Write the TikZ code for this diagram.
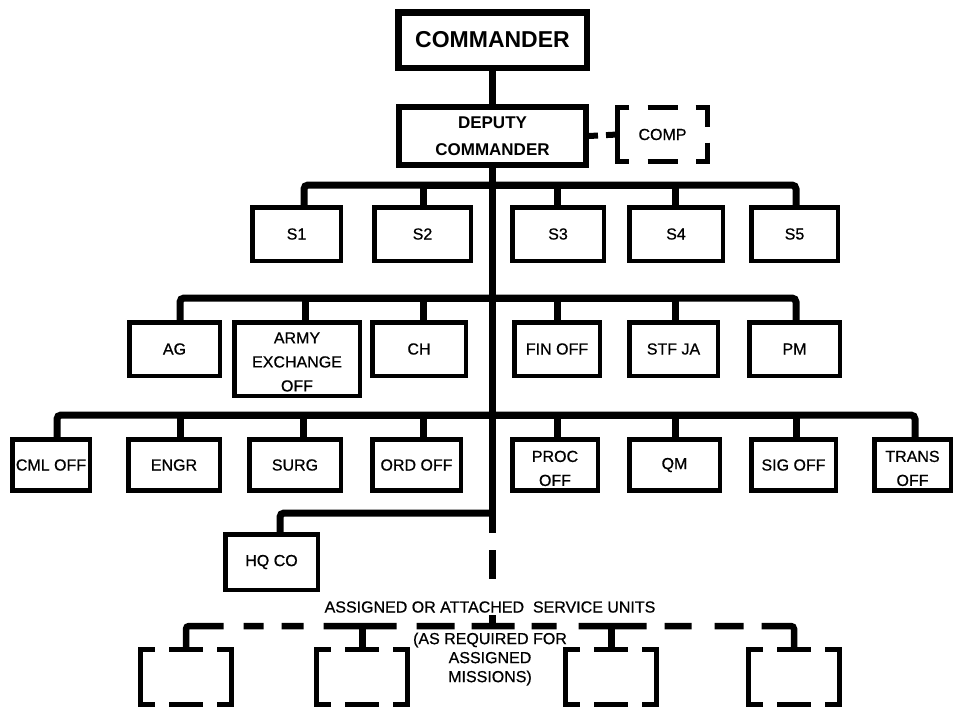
\documentclass[tikz,border=0pt]{standalone}
\usepackage{fontspec}
\setmainfont{Liberation Sans}
\newfontfamily\medfont{Liberation Sans}[FakeBold=0.7]
\begin{document}
\begin{tikzpicture}[x=1pt,y=-1pt,
  box/.style={draw, line width=4.5pt, inner sep=0pt, align=center, font=\medfont\fontsize{16}{24}\selectfont},
  bus/.style={line width=7pt},
  dbox/.style={line width=5pt},
  ghost/.style={inner sep=0pt, minimum width=90pt, minimum height=55pt},
  note/.style={inner sep=0pt, align=center, font=\medfont\fontsize{16}{19}\selectfont}]
\useasboundingbox (0,0) rectangle (960,710);

% top
\node[box, line width=6.5pt, minimum width=188.5pt, minimum height=55.5pt, font=\bfseries\fontsize{23}{27}\selectfont] (cmd) at (492.5,40) {COMMANDER};
\node[box, line width=6pt, minimum width=187pt, minimum height=58pt, font=\bfseries\fontsize{17}{27}\selectfont] (dep) at (492.5,136) {DEPUTY\\COMMANDER};
\node[ghost, minimum width=90pt, minimum height=54pt, font=\medfont\fontsize{16}{19}\selectfont] (comp) at (662.5,134.5) {COMP};

% row 1
\node[box, minimum width=88.5pt, minimum height=53.5pt] (s1) at (296.5,234) {S1};
\node[box, minimum width=96.5pt, minimum height=53.5pt] (s2) at (422.5,234) {S2};
\node[box, minimum width=91.5pt, minimum height=53.5pt] (s3) at (558,234) {S3};
\node[box, minimum width=93.5pt, minimum height=53.5pt] (s4) at (676,234) {S4};
\node[box, minimum width=86.5pt, minimum height=53.5pt] (s5) at (794.5,234) {S5};

% row 2
\node[box, minimum width=90.5pt, minimum height=53.5pt] (ag) at (174.5,349) {AG};
\node[box, minimum width=125.5pt, minimum height=73.5pt] (army) at (297,359) {\rule{0pt}{17pt}ARMY\\EXCHANGE\\OFF};
\node[box, minimum width=93.5pt, minimum height=53.5pt] (ch) at (419,349) {CH};
\node[box, minimum width=85.5pt, minimum height=53.5pt] (fin) at (557,349) {FIN OFF};
\node[box, minimum width=88.5pt, minimum height=53.5pt] (stf) at (673.5,349) {STF JA};
\node[box, minimum width=90.5pt, minimum height=53.5pt] (pm) at (794.5,349) {PM};

% row 3
\node[box, minimum width=77.5pt, minimum height=51pt] (cml) at (51,465) {CML OFF};
\node[box, minimum width=91.5pt, minimum height=51pt] (engr) at (174,465) {ENGR};
\node[box, minimum width=91.5pt, minimum height=51pt] (surg) at (295,465) {SURG};
\node[box, minimum width=88.5pt, minimum height=51pt] (ord) at (416.5,465) {ORD OFF};
\node[box, minimum width=85.5pt, minimum height=51pt] (proc) at (555,465) {\rule{0pt}{18pt}PROC\\OFF};
\node[box, minimum width=90.5pt, minimum height=51pt] (qm) at (674.5,465) {QM};
\node[box, minimum width=84.5pt, minimum height=51pt] (sig) at (793.5,465) {SIG OFF};
\node[box, minimum width=76.5pt, minimum height=51pt] (trans) at (912.5,465) {\rule{0pt}{18pt}TRANS\\OFF};

\node[box, minimum width=92.5pt, minimum height=55.5pt] (hq) at (271.5,562) {HQ CO};

% bottom
\node[ghost] (b1) at (186,677) {};
\node[ghost] (b2) at (362,677) {};
\node[ghost] (b3) at (611,677) {};
\node[ghost] (b4) at (794,677) {};

\node[note] (units) at (490,607) {ASSIGNED OR ATTACHED~ SERVICE UNITS};
\node[note] (req) at (490,659) {(AS REQUIRED FOR\\ASSIGNED\\MISSIONS)};

% coordinates on trunk
\coordinate (bus1) at (492.5,185);
\coordinate (bus2) at (492.5,298);
\coordinate (bus3) at (492.5,415);
\coordinate (bhq) at (492.5,513);
\coordinate (tEnd) at (492.5,533);
\coordinate (tDash) at (492.5,550);
\coordinate (bus4) at (492.5,626);

% trunk
\draw[bus] (cmd.south) -- (dep.north);
\draw[bus] (dep.south) -- (tEnd);
\draw[bus, dash pattern=on 29pt off 36pt on 40pt] (tDash) -- (bus4);

% comp connector
\draw[line width=6pt, dash pattern=on 9pt off 8pt on 12pt] (dep.east) -- (comp.west);

% bus 1
\draw[bus, rounded corners=4pt] ([xshift=7.5pt]s1.north) |- (bus1) -| ([xshift=1.5pt]s5.north);
\draw[bus] ([xshift=0.5pt]s2.north) |- (bus1);
\draw[bus] ([xshift=-1pt]s3.north) |- (bus1);
\draw[bus] ([xshift=-1pt]s4.north) |- (bus1);

% bus 2
\draw[bus, rounded corners=4pt] ([xshift=5.5pt]ag.north) |- (bus2) -| ([xshift=1.5pt]pm.north);
\draw[bus] ([xshift=8pt]army.north) |- (bus2);
\draw[bus] ([xshift=4pt]ch.north) |- (bus2);
\draw[bus] (fin.north) |- (bus2);
\draw[bus] ([xshift=1.5pt]stf.north) |- (bus2);

% bus 3
\draw[bus, rounded corners=4pt] ([xshift=6pt]cml.north) |- (bus3) -| ([xshift=2.5pt]trans.north);
\draw[bus] ([xshift=6pt]engr.north) |- (bus3);
\draw[bus] ([xshift=8pt]surg.north) |- (bus3);
\draw[bus] ([xshift=6.5pt]ord.north) |- (bus3);
\draw[bus] ([xshift=2pt]proc.north) |- (bus3);
\draw[bus] ([xshift=0.5pt]qm.north) |- (bus3);
\draw[bus] ([xshift=2.5pt]sig.north) |- (bus3);

% HQ CO
\draw[bus, rounded corners=4pt] ([xshift=8.5pt]hq.north) |- (bhq);

% dashed bus 4
\draw[line width=6.5pt, rounded corners=3pt,
  dash pattern={on 59.5pt off 20pt on 20pt off 18pt on 22pt off 20pt on 73pt off 20pt on 38pt off 17pt on 43pt off 17pt on 25pt off 22pt on 68pt off 18pt on 27pt off 23pt on 29pt off 18pt on 60pt off 10pt}]
  (b1.north) |- (bus4) -| (b4.north);
\draw[bus] (b2.north) -- (b2.north |- bus4);
\draw[bus] (b3.north) -- (b3.north |- bus4);

% bracket boxes
\foreach \n in {b1,b2,b3,b4}{
  \draw[dbox] ([xshift=14pt]\n.north west) -- (\n.north west) -- (\n.south west) -- ([xshift=14pt]\n.south west);
  \draw[dbox] ([xshift=-14pt]\n.north east) -- (\n.north east) -- (\n.south east) -- ([xshift=-14pt]\n.south east);
  \draw[dbox] ([xshift=-17pt]\n.north) -- ([xshift=17pt]\n.north);
  \draw[dbox] ([xshift=-17pt]\n.south) -- ([xshift=17pt]\n.south);
}
% COMP box
\draw[dbox] ([xshift=12pt]comp.north west) -- (comp.north west) -- (comp.south west) -- ([xshift=12pt]comp.south west);
\draw[dbox] ([xshift=-12pt]comp.north east) -- (comp.north east) -- ([yshift=8pt]comp.east);
\draw[dbox] ([yshift=-8pt]comp.east) -- (comp.south east) -- ([xshift=-12pt]comp.south east);
\draw[dbox] ([xshift=-15pt]comp.north) -- ([xshift=15pt]comp.north);
\draw[dbox] ([xshift=-15pt]comp.south) -- ([xshift=15pt]comp.south);
\end{tikzpicture}
\end{document}
